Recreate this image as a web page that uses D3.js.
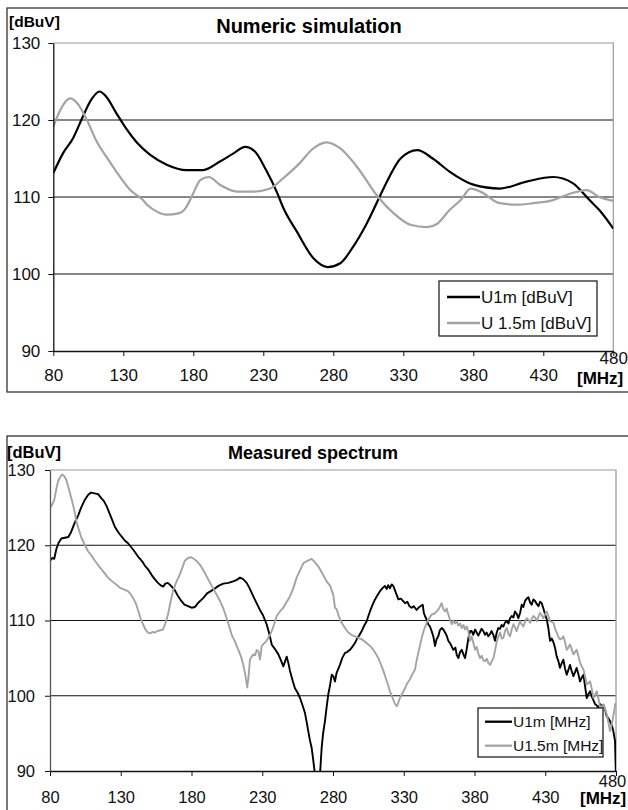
<!DOCTYPE html>
<html>
<head>
<meta charset="utf-8">
<script src="https://cdn.jsdelivr.net/npm/d3@7"></script>
<style>
  body { margin: 0; background: #fff; }
  svg { display: block; font-family: Arial, "Liberation Sans", sans-serif; }
</style>
</head>
<body>
<div class="charts"></div>
<script>
// ---- data ----
const xTicks = [80, 130, 180, 230, 280, 330, 380, 430, 480];
const yTicks = [90, 100, 110, 120, 130];

// numeric simulation
const sim1mMHz = [80, 87, 94, 101, 107, 113, 118, 125, 132, 140, 149, 161, 175, 187, 199, 209, 217, 224, 232, 240, 244, 254, 266, 276, 285, 294, 304, 313, 320, 328, 340, 351, 363, 380, 399, 418, 437, 451, 463, 470, 480];
const sim1mVal = [113.1, 115.7, 117.6, 120.4, 122.6, 123.7, 123, 120.9, 118.9, 117, 115.5, 114.2, 113.5, 113.5, 114.6, 115.7, 116.5, 115.9, 113.5, 110.5, 108.7, 105.5, 102, 100.9, 101.4, 103.5, 106.6, 110, 112.6, 115, 116.1, 115, 113.3, 111.6, 111.1, 112, 112.6, 111.8, 109.6, 108.3, 105.9];
const sim15MHz = [80, 85, 92, 97, 104, 111, 118, 125, 135, 144, 147, 154, 161, 170, 175, 180, 185, 191, 199, 211, 223, 235, 244, 256, 265, 275, 285, 297, 312, 323, 335, 347, 354, 363, 371, 378, 385, 399, 411, 423, 437, 447, 461, 470, 480];
const sim15Val = [119.1, 121.3, 122.8, 122.2, 120, 117.2, 115.2, 113.3, 110.9, 109.6, 109, 108.1, 107.7, 107.9, 108.7, 110.5, 112.2, 112.6, 111.6, 110.7, 110.7, 111.1, 112.4, 114.4, 116.2, 117.1, 116.3, 113.9, 110, 107.9, 106.4, 106.1, 106.5, 108.3, 109.6, 111.1, 110.7, 109.2, 109, 109.2, 109.6, 110.3, 110.9, 110, 109.5];

// measured spectrum
const meas1mMHz = [80, 81.5, 83, 84.5, 86, 88, 90.5, 93, 95, 97.5, 100, 102, 104.5, 107, 109, 111.5, 114, 116.5, 118, 120, 123, 125.7, 128, 130.4, 133, 135, 138, 140, 142.2, 145, 147, 149.3, 152, 154, 156.3, 158, 160, 161.5, 163.4, 165, 168, 170, 172.8, 175, 177.5, 180, 182.5, 185, 188.4, 191, 195.4, 199, 202.5, 206, 209.5, 212, 214.3, 216.5, 219, 221, 223.7, 226, 228.4, 230.5, 233.1, 235, 236.7, 239, 241.4, 243, 244.9, 246, 247.3, 248.5, 249.6, 251.5, 253.1, 255, 256.7, 258.5, 260.2, 261.5, 262.5, 263.8, 264.9, 266, 267.3, 268.5, 270, 270.8, 272, 273, 274.3, 275.5, 276.7, 278, 279.1, 280.2, 281.4, 282.5, 284.9, 286.5, 288.5, 290, 292, 294, 295.5, 297, 298.5, 300.3, 302, 303.8, 305, 306.1, 308, 309.7, 311.5, 313.2, 315, 316.7, 318, 319, 320.3, 321.5, 322.6, 324, 326.2, 328, 330.9, 332.5, 334, 335.6, 337, 339.1, 341, 343.4, 344.2, 345, 346, 347.3, 348.5, 349.7, 351, 352.1, 353.2, 354.4, 355.5, 356.8, 358, 359.2, 360.3, 361.5, 363, 365, 366.5, 367.5, 368.6, 369.8, 371, 372.2, 373.3, 374.5, 375.7, 377, 378, 379.2, 380.4, 381.5, 382.7, 384, 385, 386.2, 387.5, 388.6, 389.8, 391, 392.1, 393.3, 394.5, 395.6, 396.8, 398, 399.2, 400.4, 401.5, 402.7, 404, 405.1, 406.3, 407.5, 408.6, 409.8, 411, 412.2, 413.4, 414.5, 415.7, 416.9, 418.1, 419.3, 420.4, 421.6, 422.8, 424, 425.2, 426.3, 427.5, 428.7, 429.9, 431, 432.2, 433.4, 434.6, 435.8, 437, 438.1, 439.3, 440.4, 441.6, 442.8, 444, 445.2, 446.3, 447.5, 448.7, 449.9, 451, 452.2, 453.4, 454.6, 455.8, 457, 458.1, 459.3, 460.5, 461.7, 462.9, 464.1, 465.2, 466.4, 467.6, 468.8, 470, 471.1, 472.3, 473.4, 474.6, 475.8, 477, 478.1, 479.3, 480];
const meas1mVal = [117.9, 118.3, 118.2, 119.5, 120.3, 120.9, 121, 121.1, 121.8, 123, 124, 125, 126, 126.7, 127, 126.9, 126.8, 126.2, 125.9, 125.2, 123.8, 122.5, 121.8, 121.2, 120.6, 120.3, 119.6, 119.1, 118.5, 117.9, 117.3, 116.8, 116, 115.5, 115, 114.7, 114.5, 114.9, 115, 114.7, 114.1, 113.4, 112.6, 112.1, 111.9, 111.7, 111.8, 112.4, 113, 113.6, 114.1, 114.6, 114.9, 115, 115.2, 115.4, 115.7, 115.5, 115, 114.3, 113.2, 112.3, 111.4, 110.7, 109.5, 108.2, 106.8, 106.2, 105.5, 104.8, 103.9, 104.5, 105.2, 104.3, 103.3, 102, 101, 100.4, 99.7, 98.7, 97.7, 96.4, 95.3, 94, 93.1, 91.5, 89.5, 88, 88, 89.5, 93.1, 95, 96.6, 98.5, 100.2, 101.5, 102.8, 102.6, 101.9, 103, 104.1, 105, 105.7, 105.8, 106.1, 106.6, 107, 107.6, 108, 108.6, 109.3, 109.9, 110.6, 111.2, 112.1, 112.8, 113.4, 113.9, 114.3, 114.6, 114.2, 114.7, 114.3, 114.8, 114.6, 113.9, 112.8, 112.9, 112.3, 112.5, 111.9, 111.7, 111.9, 111.4, 111.8, 112.1, 111, 110.6, 110.2, 109.5, 109.2, 108.6, 107.8, 106.6, 107.5, 107.9, 108.7, 109, 108.8, 108.4, 108, 107.3, 106.9, 106.1, 106.4, 105.4, 105, 105.8, 106.1, 105.5, 105, 106.2, 107.7, 108.6, 108.6, 108.1, 108.8, 108.4, 108, 108.5, 108.9, 108.6, 108.1, 108.4, 107.9, 108.2, 108.6, 108.1, 107.3, 108.3, 109, 108.9, 109.4, 109.2, 109.7, 109.9, 109.6, 110.3, 110.6, 110.4, 111.2, 110.9, 110.3, 111, 112.1, 111.8, 112.6, 112.9, 113.1, 112.4, 112.1, 112.8, 112.6, 112.2, 111.9, 112.5, 112.3, 111.6, 110.8, 110.2, 109, 107.3, 107.6, 107.1, 106.3, 105.2, 104.6, 103.7, 104.3, 104.8, 103.6, 102.8, 103.4, 104.1, 103.3, 102.6, 103.1, 103.7, 102.9, 101.9, 102.4, 102.8, 101.3, 99.7, 100.2, 100.6, 99.9, 99.4, 98.9, 98.7, 98.4, 98.9, 98.6, 98.8, 98.1, 97.3, 97, 96.6, 96.1, 95.3, 94, 89];
const meas15MHz = [80, 81.5, 83, 84.5, 85.7, 87, 88.5, 90, 91.5, 93, 95, 97, 98.6, 100.5, 102.2, 104.5, 106.9, 109, 111.5, 113.9, 116, 118.5, 121, 124, 126, 128, 130, 132.5, 135.1, 137, 139, 141, 142.5, 144, 145.7, 147.5, 149.3, 151, 152.5, 154, 156, 158, 159.9, 161.5, 163.4, 165, 166.9, 169, 171.7, 173.5, 175.2, 177.5, 179.9, 181.5, 183.7, 186, 189.5, 192, 194.3, 197, 200.1, 202.5, 204.9, 206.5, 208.4, 210.5, 213.1, 215, 216.6, 218, 219.4, 220.3, 221.3, 222.5, 223.7, 225, 226.1, 227.3, 228.4, 229.6, 231, 233, 235.5, 237.5, 240.2, 242.5, 244.9, 247, 249.6, 252, 254.3, 256.5, 259, 261.5, 264.9, 267, 269.6, 272, 275.5, 278, 280.2, 281.4, 282.6, 284, 286.1, 288.5, 290.8, 293, 295.5, 298, 300.3, 302.5, 305, 306.8, 308.5, 310.2, 312, 313.8, 315.6, 317.4, 319.1, 320.8, 322.6, 323.8, 325, 326.2, 327.3, 329, 330.9, 332.6, 334.4, 336.2, 338, 339.2, 340.3, 341.5, 342.7, 344.4, 346.2, 348, 349.7, 351.5, 353.3, 355, 356.8, 358, 359.2, 360.3, 361.5, 362.7, 363.9, 365, 366.2, 367.4, 368.6, 369.8, 371, 372.2, 373.3, 374.5, 375.7, 376.8, 378, 379.2, 380.4, 381.5, 382.7, 384, 385.1, 386.3, 387.5, 388.7, 389.9, 391.1, 392.2, 393.4, 394.6, 395.8, 397, 398.1, 399.3, 400.4, 401.6, 402.8, 404, 405.1, 406.3, 407.5, 408.6, 409.8, 411, 412.2, 413.3, 414.5, 415.7, 416.9, 418.1, 419.3, 420.4, 421.6, 422.8, 424, 425.2, 426.3, 427.5, 428.7, 429.9, 431, 432.2, 433.4, 434.6, 435.8, 437, 438.1, 439.3, 440.5, 441.6, 442.8, 444, 445.2, 446.3, 447.5, 448.7, 449.9, 451, 452.2, 453.4, 454.6, 455.8, 457, 458.1, 459.3, 460.5, 461.7, 462.9, 464.1, 465.2, 466.4, 467.6, 468.8, 470, 471.1, 472.3, 473.5, 474.6, 475.8, 477, 478.1, 479, 479.5];
const meas15Val = [125, 125.4, 126, 127.5, 128.5, 129, 129.4, 129.2, 128.7, 127.7, 126.3, 124.8, 123.2, 122, 121, 120.1, 119.2, 118.7, 118, 117.4, 116.9, 116.3, 115.7, 115.2, 114.9, 114.6, 114.3, 114.1, 113.9, 113.5, 112.9, 112.1, 111.2, 110.3, 109.5, 108.8, 108.4, 108.3, 108.5, 108.4, 108.6, 108.7, 108.8, 109.6, 110.8, 112.3, 113.9, 115, 116.1, 117, 117.9, 118.3, 118.4, 118.2, 117.9, 117.4, 116.3, 115.4, 114.6, 113.7, 112.6, 111.6, 110.3, 109.3, 108.1, 107.3, 106.1, 105.2, 104.1, 102.8, 101.1, 102.5, 104.8, 105.2, 105.5, 105.4, 106.1, 105.9, 104.8, 106.6, 106.9, 107.3, 108.1, 109, 110.6, 111.2, 111.7, 112.4, 113.2, 114.3, 115.7, 116.6, 117.6, 117.9, 118.2, 117.8, 117.2, 116.4, 115.2, 114.6, 113.4, 111.7, 111.5, 110.6, 109.7, 109, 108.4, 108.1, 107.9, 107.7, 107.5, 107.2, 106.8, 106.5, 106.1, 105.6, 105, 104.2, 103.3, 102.3, 101.3, 100.3, 99.5, 98.9, 98.6, 99.1, 99.7, 100.3, 101, 101.7, 102.2, 102.9, 103.5, 104.8, 105.7, 106.7, 107.7, 108.8, 109.7, 110.3, 110.8, 110.9, 111.2, 111.6, 112.3, 111.5, 111.2, 111.6, 110.8, 110.1, 109.5, 110, 109.6, 109.9, 109.3, 109.6, 109, 109.4, 108.8, 109.2, 108.5, 107.3, 107.9, 107, 106.1, 106.5, 105.6, 105, 105.3, 104.7, 104.6, 104.9, 104.3, 104.1, 104.6, 105, 106.1, 107.3, 107.9, 108.4, 107.6, 107.7, 108.6, 109, 108.2, 107.9, 108.8, 109.5, 109.1, 108.6, 109.3, 109.9, 109.5, 109.2, 109.8, 110.3, 110.1, 109.7, 110.2, 110.6, 110.4, 109.9, 110.5, 111, 110.7, 110.3, 110.8, 111.2, 110.6, 109.9, 109.8, 109.7, 108.9, 108.4, 107.8, 107.5, 107.6, 107.9, 107.1, 106.1, 106.4, 106.8, 106.2, 105.5, 105.8, 106.1, 105.3, 104.4, 103.9, 103.5, 102.6, 101.5, 101.7, 101.9, 100.9, 99.7, 100.1, 100.6, 99.6, 98.4, 98.6, 98.8, 98.2, 97.5, 96.5, 95.3, 96.2, 97.3, 98.3, 99];

const black = "#000";
const gray = "#a3a3a3";

const width = 628;
const height = 810;

const svg = d3.select('.charts')
  .append('svg')
  .attr('width', width)
  .attr('height', height);

function pairs(xs, ys) {
  return xs.map((x, i) => ({x: x, y: ys[i]}));
}

function drawChart(c) {
  const g = svg.append('g');

  // outer frame
  g.append('rect')
    .attr('x', c.frame[0]).attr('y', c.frame[1])
    .attr('width', c.frame[2]).attr('height', c.frame[3])
    .attr('fill', '#fff').attr('stroke', '#222').attr('stroke-width', 1.2);

  const x = d3.scaleLinear().domain([80, 480]).range([c.left, c.right]);
  const y = d3.scaleLinear().domain([90, 130]).range([c.bottom, c.top]);

  // grid lines
  g.selectAll('line.grid')
    .data(yTicks.filter(t => t > 90 && t < 130))
    .enter()
    .append('line')
    .attr('class', 'grid')
    .attr('x1', c.left).attr('x2', c.right)
    .attr('y1', d => y(d)).attr('y2', d => y(d))
    .attr('stroke', '#111').attr('stroke-width', 1);

  // top and right border of plot area
  g.append('path')
    .attr('d', `M${c.left},${c.top}H${c.right}V${c.bottom}`)
    .attr('fill', 'none').attr('stroke', '#999').attr('stroke-width', 1.2);

  // series
  const clipId = 'clip' + c.id;
  g.append('clipPath').attr('id', clipId)
    .append('rect')
    .attr('x', c.left).attr('y', c.top)
    .attr('width', c.right - c.left).attr('height', c.bottom - c.top);

  const line = d3.line()
    .x(d => x(d.x))
    .y(d => y(d.y))
    .curve(c.curve);

  c.series.forEach(s => {
    g.append('path')
      .datum(pairs(s.mhz, s.val))
      .attr('clip-path', `url(#${clipId})`)
      .attr('fill', 'none')
      .attr('stroke', s.color)
      .attr('stroke-width', c.lineWidth)
      .attr('stroke-linejoin', 'round')
      .attr('d', line);
  });

  // axes
  const xAxis = g.append('g')
    .attr('transform', `translate(0,${c.bottom})`)
    .call(d3.axisBottom(x).tickValues(xTicks).tickSizeInner(5).tickSizeOuter(0).tickPadding(c.xPad));
  xAxis.select('.domain').attr('stroke', '#111').attr('stroke-width', 1.3);
  xAxis.selectAll('.tick line').attr('stroke', '#111');
  xAxis.selectAll('text')
    .attr('font-size', c.tickFont)
    .attr('font-family', 'Arial, "Liberation Sans", sans-serif')
    .attr('fill', '#111');
  xAxis.selectAll('.tick').filter(d => d == 480).select('text')
    .attr('dy', c.lastDy)
    .attr('dx', c.lastDx);

  const yAxis = g.append('g')
    .attr('transform', `translate(${c.left},0)`)
    .call(d3.axisLeft(y).tickValues(yTicks).tickSizeInner(5).tickSizeOuter(0).tickPadding(c.yPad));
  yAxis.select('.domain').attr('stroke', c.yAxisColor).attr('stroke-width', 1.3);
  yAxis.selectAll('.tick line').attr('stroke', '#111');
  yAxis.selectAll('text')
    .attr('font-size', c.tickFont)
    .attr('font-family', 'Arial, "Liberation Sans", sans-serif')
    .attr('fill', '#111');

  // titles and units
  g.append('text')
    .attr('x', c.titleX).attr('y', c.titleY)
    .attr('text-anchor', 'middle')
    .attr('font-weight', 'bold')
    .attr('font-size', c.titleFont)
    .text(c.title);

  g.append('text')
    .attr('x', c.unitY[0]).attr('y', c.unitY[1])
    .attr('font-weight', 'bold')
    .attr('font-size', c.unitYFont)
    .text('[dBuV]');

  g.append('text')
    .attr('x', c.unitX[0]).attr('y', c.unitX[1])
    .attr('font-weight', 'bold')
    .attr('font-size', 17)
    .text('[MHz]');

  // legend
  const lg = g.append('g');
  lg.append('rect')
    .attr('x', c.legend[0]).attr('y', c.legend[1])
    .attr('width', c.legend[2]).attr('height', c.legend[3])
    .attr('fill', '#fff').attr('stroke', '#111').attr('stroke-width', 1.2);
  c.series.forEach((s, i) => {
    const ly = c.legendRows[i];
    lg.append('line')
      .attr('x1', c.legendLine[0]).attr('x2', c.legendLine[1])
      .attr('y1', ly).attr('y2', ly)
      .attr('stroke', s.color).attr('stroke-width', c.lineWidth + 0.4);
    lg.append('text')
      .attr('x', c.legendLine[1] + 1).attr('y', ly)
      .attr('dy', '0.35em')
      .attr('font-size', c.legendFont)
      .attr('fill', '#111')
      .text(s.name);
  });
}

// Numeric simulation
drawChart({
  id: 'top',
  frame: [7, 8, 640, 384],
  left: 53.3, right: 613.3, top: 43, bottom: 351,
  curve: d3.curveMonotoneX,
  lineWidth: 2.2,
  xPad: 13, yPad: 8, tickFont: 17, lastDy: '-0.3em', lastDx: 0,
  yAxisColor: '#111',
  title: 'Numeric simulation', titleX: 309, titleY: 33, titleFont: 20,
  unitY: [9, 27], unitYFont: 15.5,
  unitX: [577, 384],
  legend: [439, 281, 158, 55],
  legendLine: [447, 480],
  legendRows: [297, 323],
  legendFont: 17,
  series: [
    {name: 'U1m [dBuV]', mhz: sim1mMHz, val: sim1mVal, color: black},
    {name: 'U 1.5m [dBuV]', mhz: sim15MHz, val: sim15Val, color: gray}
  ]
});

// Measured spectrum
drawChart({
  id: 'bottom',
  frame: [7, 436, 640, 400],
  left: 50, right: 616, top: 470, bottom: 771,
  curve: d3.curveLinear,
  lineWidth: 1.9,
  xPad: 15, yPad: 10, tickFont: 16.5, lastDy: '-0.25em', lastDx: -4,
  yAxisColor: '#555',
  title: 'Measured spectrum', titleX: 313, titleY: 459, titleFont: 18,
  unitY: [7, 458], unitYFont: 16.5,
  unitX: [580, 804],
  legend: [478, 708, 125, 49],
  legendLine: [485, 512],
  legendRows: [721.7, 745.7],
  legendFont: 15.5,
  series: [
    {name: 'U1m [MHz]', mhz: meas1mMHz, val: meas1mVal, color: black},
    {name: 'U1.5m [MHz]', mhz: meas15MHz, val: meas15Val, color: gray}
  ]
});
</script>
</body>
</html>
